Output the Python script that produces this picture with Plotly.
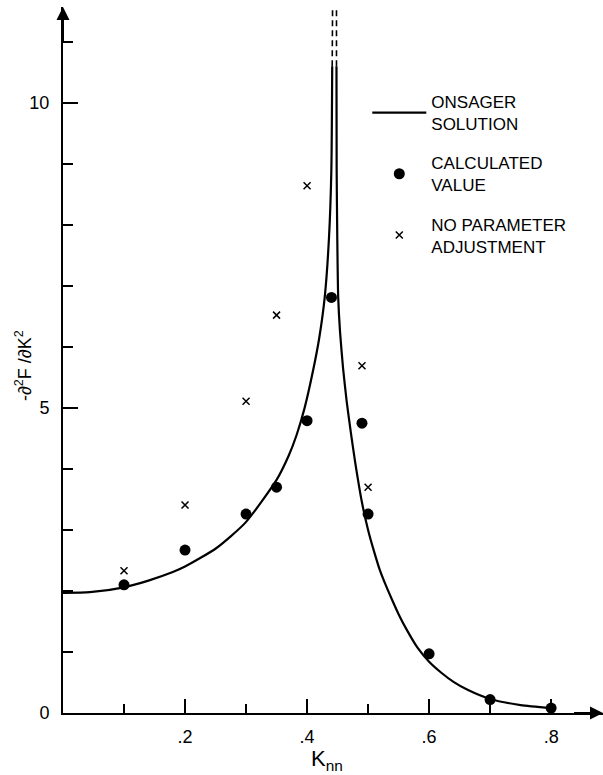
import plotly.graph_objects as go

# ---- data ----
# Onsager solution, left branch (solid)
k_left = [0.000, 0.044, 0.100, 0.140, 0.180, 0.200, 0.251, 0.299, 0.350, 0.370,
          0.383, 0.396, 0.410, 0.420, 0.429, 0.436, 0.4398, 0.4412]
v_left = [1.97, 1.98, 2.06, 2.17, 2.31, 2.40, 2.70, 3.12, 3.82, 4.22,
          4.56, 5.00, 5.62, 6.15, 6.82, 7.80, 8.90, 10.60]
# Onsager solution, right branch (solid)
k_right = [0.4482, 0.4485, 0.4495, 0.451, 0.454, 0.459, 0.465, 0.472, 0.479, 0.490,
           0.500, 0.510, 0.519, 0.530, 0.540, 0.550, 0.563, 0.581, 0.600, 0.620,
           0.640, 0.663, 0.700, 0.750, 0.800]
v_right = [10.60, 8.90, 7.80, 6.82, 6.25, 5.65, 5.10, 4.58, 4.10, 3.45,
           3.00, 2.64, 2.35, 2.07, 1.84, 1.62, 1.37, 1.07, 0.84, 0.66,
           0.51, 0.38, 0.23, 0.13, 0.08]
# dashed continuation near the critical point
k_dash_left = [0.4412, 0.4418]
v_dash_left = [10.60, 11.55]
k_dash_right = [0.4482, 0.4482]
v_dash_right = [10.60, 11.55]

# calculated values
k_calc = [0.10, 0.20, 0.30, 0.35, 0.40, 0.44, 0.49, 0.50, 0.60, 0.70, 0.80]
v_calc = [2.10, 2.67, 3.26, 3.70, 4.79, 6.81, 4.75, 3.26, 0.97, 0.22, 0.08]

# no parameter adjustment
k_noadj = [0.10, 0.20, 0.30, 0.35, 0.40, 0.49, 0.50]
v_noadj = [2.33, 3.41, 5.11, 6.52, 8.64, 5.69, 3.70]

x_tickvals = [0.2, 0.4, 0.6, 0.8]
x_ticktext = [".2", ".4", ".6", ".8"]
y_tickvals = [0, 5, 10]
y_ticktext = ["0", "5", "10"]

X_MAX = 0.885
Y_MAX = 11.57
FONT = "Liberation Sans, Arial, sans-serif"

fig = go.Figure()
line_style = dict(color="black", width=2.2, shape="spline", smoothing=0.6)
fig.add_trace(go.Scatter(x=k_left, y=v_left, mode="lines", line=line_style,
                         name="ONSAGER<br>SOLUTION", legendgroup="a"))
fig.add_trace(go.Scatter(x=k_right, y=v_right, mode="lines", line=line_style,
                         showlegend=False, legendgroup="a"))
for kx, vy in [(k_dash_left, v_dash_left), (k_dash_right, v_dash_right)]:
    fig.add_trace(go.Scatter(x=kx, y=vy, mode="lines",
                             line=dict(color="black", width=1.6, dash="6px,4px"),
                             showlegend=False, legendgroup="a"))
fig.add_trace(go.Scatter(x=k_calc, y=v_calc, mode="markers",
                         marker=dict(symbol="circle", size=11, color="black"),
                         name="CALCULATED<br>VALUE", legendgroup="b"))
fig.add_trace(go.Scatter(x=k_noadj, y=v_noadj, mode="markers",
                         marker=dict(symbol="x-thin", size=7,
                                     line=dict(color="black", width=1.5)),
                         name="NO PARAMETER<br>ADJUSTMENT", legendgroup="c"))

axis_common = dict(showgrid=False, zeroline=False, showline=True, linecolor="black",
                   linewidth=2, ticks="inside", tickcolor="black", tickwidth=2,
                   automargin=False,
                   tickfont=dict(family=FONT, size=18, color="black"))

fig.update_xaxes(range=[0, X_MAX], tickmode="array", tickvals=x_tickvals,
                 ticktext=x_ticktext, ticklen=14, ticklabelstandoff=6,
                 minor=dict(tick0=0, dtick=0.1, ticklen=9, ticks="inside",
                            tickcolor="black", tickwidth=2),
                 **axis_common)
fig.update_yaxes(range=[0, Y_MAX], tickmode="array", tickvals=y_tickvals,
                 ticktext=y_ticktext, ticklen=15, ticklabelstandoff=8,
                 minor=dict(tick0=0, dtick=1, ticklen=10, ticks="inside",
                            tickcolor="black", tickwidth=2),
                 **axis_common)

annotations = [
    # axis arrowheads
    dict(x=0, y=Y_MAX, ax=0, ay=Y_MAX - 0.6, xref="x", yref="y", axref="x", ayref="y",
         text="", showarrow=True, arrowhead=2, arrowsize=1.3, arrowwidth=2,
         arrowcolor="black"),
    dict(x=X_MAX, y=0, ax=X_MAX - 0.05, ay=0, xref="x", yref="y", axref="x", ayref="y",
         text="", showarrow=True, arrowhead=2, arrowsize=1.3, arrowwidth=2,
         arrowcolor="black"),
    # axis titles
    dict(x=-0.074, y=0.4915, xref="paper", yref="paper", textangle=-90,
         text="-\u2202<sup>2</sup>F /\u2202K<sup>2</sup>", showarrow=False,
         font=dict(family=FONT, size=18, color="black"),
         xanchor="center", yanchor="middle"),
    dict(x=0.4885, y=-0.0665, xref="paper", yref="paper",
         text="K<sub>nn</sub>", showarrow=False,
         font=dict(family=FONT, size=22, color="black"),
         xanchor="center", yanchor="middle"),
]

fig.update_layout(
    width=603, height=775,
    margin=dict(l=63, r=0, t=7, b=62, autoexpand=False),
    plot_bgcolor="white", paper_bgcolor="white",
    annotations=annotations,
    showlegend=True,
    hovermode=False,
    legend=dict(x=0.5635, y=0.891, xanchor="left", yanchor="top",
                bgcolor="rgba(0,0,0,0)", borderwidth=0,
                traceorder="grouped", tracegroupgap=14, itemwidth=54,
                font=dict(family=FONT, size=17, color="black")),
)

fig.write_html("out.html",
               config={"displayModeBar": False},
               post_script="document.body.style.margin='0';"
                           "document.body.style.overflow='hidden';")
